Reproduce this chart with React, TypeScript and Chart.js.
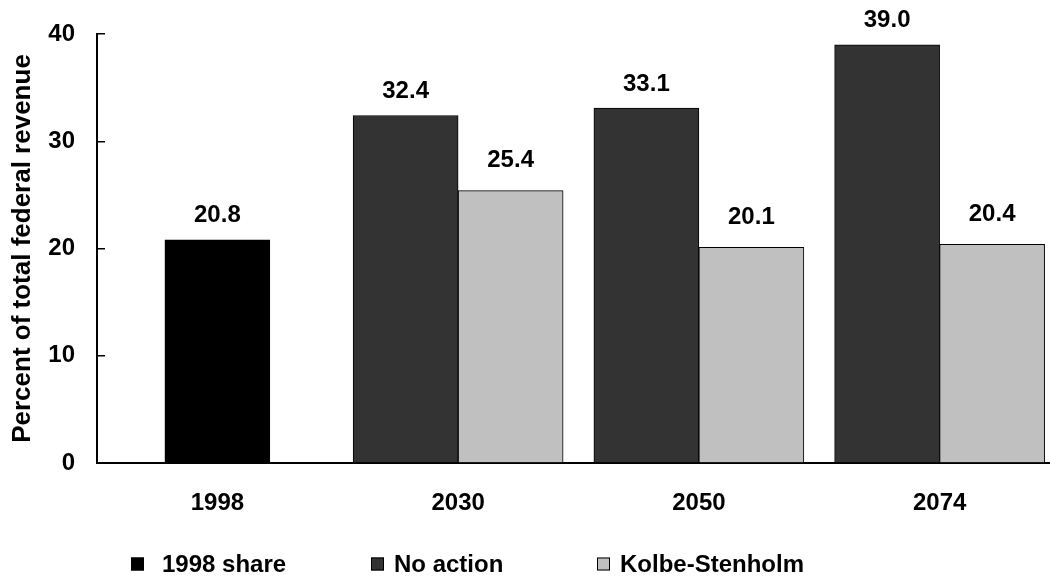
import React, { useEffect, useRef } from "react";
import { Chart, registerables } from "chart.js";

Chart.register(...registerables);

const categories = ["1998", "2030", "2050", "2074"];
const share1998 = [20.8, null, null, null];
const noAction = [null, 32.4, 33.1, 39.0];
const kolbeStenholm = [null, 25.4, 20.1, 20.4];
const seriesNames = ["1998 share", "No action", "Kolbe-Stenholm"];
const yTickValues = [0, 10, 20, 30, 40];
const yTitle = "Percent of total federal revenue";

const FONT = "'Liberation Sans', Arial, Helvetica, sans-serif";

export default function App() {
  const ref = useRef<HTMLCanvasElement>(null);

  useEffect(() => {
    document.body.style.margin = "0";
    document.body.style.overflow = "hidden";
    const canvas = ref.current;
    if (!canvas) return;

    const valueLabels = {
      id: "valueLabels",
      afterDatasetsDraw(chart: any) {
        const ctx = chart.ctx;
        ctx.save();
        ctx.font = `bold 24px ${FONT}`;
        ctx.fillStyle = "#000";
        ctx.textAlign = "center";
        ctx.textBaseline = "middle";
        chart.data.datasets.forEach((ds: any, i: number) => {
          const meta = chart.getDatasetMeta(i);
          meta.data.forEach((el: any, j: number) => {
            const v = ds.data[j];
            if (v === null || v === undefined) return;
            ctx.fillText(Number(v).toFixed(1), el.x, el.y - ds.labelOffset);
          });
        });
        ctx.restore();
      },
    };

    const customLegend = {
      id: "customLegend",
      afterDraw(chart: any, _args: any, opts: any) {
        const ctx = chart.ctx;
        ctx.save();
        ctx.font = `bold 24px ${FONT}`;
        ctx.textBaseline = "middle";
        ctx.textAlign = "left";
        chart.data.datasets.forEach((ds: any, i: number) => {
          const x = opts.starts[i];
          const y = opts.y;
          const s = opts.box;
          ctx.fillStyle = ds.backgroundColor;
          ctx.fillRect(x, y - s / 2, s, s);
          ctx.strokeStyle = "#000";
          ctx.lineWidth = 1;
          ctx.strokeRect(x + 0.5, y - s / 2 + 0.5, s - 1, s - 1);
          ctx.fillStyle = "#000";
          ctx.fillText(ds.label, x + s + opts.gaps[i], y + 1);
        });
        ctx.restore();
      },
    };

    const chart = new Chart(canvas, {
      type: "bar",
      data: {
        labels: categories,
        datasets: [
          {
            label: seriesNames[0],
            data: share1998,
            backgroundColor: "#000000",
            borderColor: "#000000",
            borderWidth: 1,
            labelOffset: 25,
          } as any,
          {
            label: seriesNames[1],
            data: noAction,
            backgroundColor: "#333333",
            borderColor: "#000000",
            borderWidth: 1,
            labelOffset: 24,
          } as any,
          {
            label: seriesNames[2],
            data: kolbeStenholm,
            backgroundColor: "#c0c0c0",
            borderColor: "#000000",
            borderWidth: 1,
            labelOffset: 30,
          } as any,
        ],
      },
      options: {
        responsive: false,
        animation: false,
        skipNull: true,
        barThickness: 105,
        layout: { padding: { top: 34, left: 0, right: 0, bottom: 0 } },
        plugins: {
          legend: { display: false },
          tooltip: { enabled: false },
          customLegend: { starts: [131, 371, 597], gaps: [18, 10, 10], y: 564, box: 13 },
        } as any,
        scales: {
          x: {
            type: "category",
            offset: true,
            grid: { display: false, drawOnChartArea: false, drawTicks: false },
            border: { display: true, color: "#000", width: 2 },
            ticks: {
              color: "#000",
              font: { family: FONT, size: 24, weight: "bold" },
              padding: 26,
              maxRotation: 0,
            },
            afterFit: (s: any) => {
              s.height = 113;
              s.paddingLeft = 0;
              s.paddingRight = 0;
            },
          },
          y: {
            min: yTickValues[0],
            max: yTickValues[yTickValues.length - 1],
            grid: {
              display: true,
              drawOnChartArea: false,
              drawTicks: true,
              tickLength: -8,
              color: "#000",
              lineWidth: 1.5,
            },
            border: { display: true, color: "#000", width: 2 },
            ticks: {
              stepSize: 10,
              color: "#000",
              font: { family: FONT, size: 24, weight: "bold" },
              padding: 30,
            },
            afterBuildTicks: (axis: any) => {
              axis.ticks = yTickValues.map((v) => ({ value: v }));
            },
            title: {
              display: true,
              text: yTitle,
              color: "#000",
              font: { family: FONT, size: 26, weight: "bold" },
              padding: { top: 7, bottom: 0 },
            },
            afterFit: (s: any) => {
              s.width = 97;
              s.paddingTop = 0;
              s.paddingBottom = 0;
            },
          },
        },
      } as any,
      plugins: [valueLabels, customLegend],
    });

    return () => chart.destroy();
  }, []);

  return (
    <div style={{ width: 1050, height: 576, overflow: "hidden" }}>
      <canvas ref={ref} width={1060} height={576} style={{ display: "block" }} />
    </div>
  );
}
